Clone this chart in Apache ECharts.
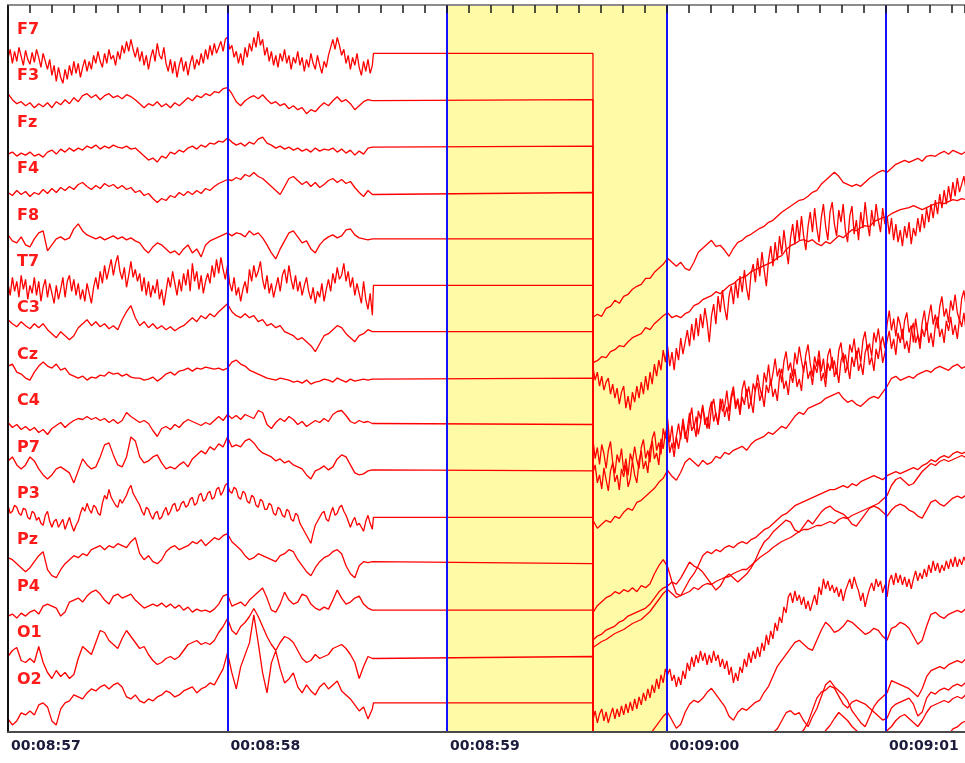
<!DOCTYPE html>
<html>
<head>
<meta charset="utf-8">
<script src="https://cdn.jsdelivr.net/npm/echarts@6/dist/echarts.min.js"></script>
<style>
  html, body { margin: 0; padding: 0; background: #ffffff; }
  #chart { width: 965px; height: 763px; }
</style>
</head>
<body>
<div id="chart"></div>
<script>
// Montage, top to bottom
const channels = ['F7', 'F3', 'Fz', 'F4', 'F8', 'T7', 'C3', 'Cz', 'C4', 'P7', 'P3', 'Pz', 'P4', 'O1', 'O2'];

// Page timing (seconds since 00:00:00)
const PAGE_START = 537.0;      // 00:08:57
const PAGE_END = 541.36;
const SEG_A_LEN = 1.66;        // first stretch of signal
const DROP_START = 538.665;    // signal lost, channels sit on baseline
const RESUME = 539.665;        // signal back (with DC drift)
const SEG_B_LEN = 1.70;
const CH_GAP = 46.4;           // baseline spacing at the current gain
const LABEL_LIFT = 23.5;       // channel name sits above its baseline

// Marked second (yellow)
const highlight = [539, 540];

// Level each trace arrives from at the left page edge
const carryIn = [-48, -47, -46, -47, -46, -48, -47, -46, -47, -46, -48, -47, -46, -47, -60];

// ---- Segment A: 00:08:57.00 - 00:08:58.66, deviation from baseline ----
// (arrays of 84 samples are 50 Hz, 167 samples are 100 Hz)
const F7_a = [-5,4,-10,2,-8,6,-3,-12,3,-6,-11,1,-9,4,-4,-14,0,-8,-16,-6,-22,-12,-28,-14,-24,-30,-16,-26,-12,-22,-8,-20,-10,-24,-14,-6,-18,-8,-16,-2,-10,2,-8,-14,0,-10,4,-6,-2,-12,2,-6,8,0,12,2,14,4,-4,6,-8,2,-12,-2,-16,-4,4,-8,10,-2,-6,6,-10,-18,-6,-20,-8,-24,-12,-4,-18,-8,-22,-10,-2,-16,-6,-12,0,-10,4,-6,8,-2,10,0,6,12,2,14,16,4,8,-4,2,-10,0,-12,6,-4,10,2,16,6,22,8,14,-2,6,-8,2,-12,-2,-14,0,-8,4,-10,-2,-16,-4,-10,2,-12,-4,-18,-6,-14,0,-10,-16,-2,-12,-20,-8,-14,-2,6,14,4,16,8,-2,4,-10,-2,-16,-4,-12,0,-14,-22,-8,-18,-6,-20,-12];
const F3_a = [6,0,-4,-2,-6,-3,-8,-4,-7,-3,-8,-2,-5,0,-4,2,-2,4,6,2,5,0,4,6,2,4,1,5,3,0,-4,-8,-4,-6,-2,-7,-4,-8,-3,-6,-2,2,-1,4,2,6,4,8,7,11,12,6,-2,-6,-1,2,4,1,5,0,-4,-2,-6,-4,-9,-6,-10,-8,-14,-10,-12,-7,-3,-6,-1,3,-2,0,-4,-10,-6,-2,0,-1];
const Fz_a = [-8,-6,-10,-7,-9,-6,-10,-8,-11,-6,-4,-8,-3,-6,-2,-5,-2,-4,0,-2,1,-3,0,-2,1,-1,-2,0,-3,-2,-6,-10,-14,-12,-16,-10,-12,-6,-8,-4,-6,-2,0,-3,1,-1,3,2,5,4,8,4,1,3,0,4,2,7,9,3,1,-2,0,-3,-1,-4,-2,-5,-3,-6,-2,-5,-3,-4,-2,-6,-3,-7,-4,-9,-5,-8,-2,-1];
const F4_a = [0,-3,2,-2,1,-4,0,-2,3,-1,4,0,5,2,6,3,8,10,6,3,7,4,9,6,8,4,7,3,5,0,2,-3,-1,-6,-10,-6,-8,-3,-5,0,-3,1,-2,2,-1,4,2,6,9,11,13,12,15,13,18,16,20,16,14,10,6,2,-2,6,14,16,12,8,11,6,10,5,8,12,14,10,13,9,11,5,0,-4,2,-2];
const F8_a = [4,-2,-4,2,-6,-8,0,6,8,-12,-6,0,2,-1,1,10,15,8,4,2,0,2,-1,1,3,0,2,-1,1,-2,-4,-10,-14,-8,-4,-6,-10,-14,-12,-16,-10,-6,-14,-10,-18,-6,-2,0,2,4,6,3,6,5,2,8,4,6,1,-6,-14,-20,-10,-2,6,8,2,-4,-2,-10,-14,-6,-1,2,4,1,3,9,10,4,1,0,-1,0];
const T7_a = [2,-10,8,-6,4,-12,10,-4,6,-14,0,-8,8,-10,4,-16,-2,6,-12,2,-8,-18,0,-14,-4,8,-12,4,10,-6,6,-10,2,-14,-4,-16,2,-8,-18,-2,8,-4,14,2,20,6,16,26,10,22,30,14,6,18,-2,10,24,8,16,4,12,-6,8,-10,4,-12,0,-8,6,-14,-4,-20,-6,8,-2,14,2,-10,6,-6,12,0,16,-6,22,4,14,-4,10,-8,4,12,2,20,8,26,12,28,16,6,20,2,-6,8,-10,-2,-16,-4,4,-8,16,4,20,8,14,24,6,-4,10,-8,2,-12,-2,8,-6,10,16,2,20,6,-4,10,-6,4,-10,0,8,-6,-14,-2,-18,-6,-12,2,-16,-4,6,-6,12,2,18,6,10,22,4,14,-2,8,-10,2,-8,-18,4,-14,-24,-8,-30];
const C3_a = [12,8,5,10,6,3,8,4,8,2,-2,-6,0,-4,-8,-4,4,8,12,6,10,5,8,3,6,2,12,20,26,14,6,10,4,8,3,6,2,5,1,4,6,10,14,10,16,13,18,15,20,24,28,20,16,14,18,14,16,10,12,6,8,4,6,0,-2,-4,-8,-6,-10,-14,-20,-12,-4,-2,2,6,4,-2,-6,-10,-4,-2,2,0];
const Cz_a = [12,14,6,4,0,-2,6,12,16,12,10,14,8,10,4,2,0,2,-2,1,0,3,2,6,4,5,2,4,1,0,0,-2,-1,1,-3,0,4,6,3,7,8,10,7,10,9,11,10,9,10,8,10,16,18,14,12,8,6,4,2,0,-1,-2,0,-1,-2,-4,-3,-5,-2,-6,-4,-3,-1,-2,-4,0,-2,-4,-1,-3,-2,-1,-2,-1];
const C4_a = [2,-3,0,-5,-2,-6,-3,-8,-5,-10,-4,-1,2,-3,1,4,6,5,8,5,7,4,6,2,5,1,4,12,8,5,2,4,1,-6,-12,-4,-2,-5,0,-3,2,5,3,1,-1,2,0,4,8,4,10,6,9,5,10,8,6,14,12,0,-4,2,6,3,8,5,0,3,-2,1,4,2,6,3,10,13,14,9,3,1,4,2,3,1];
const P7_a = [10,14,6,2,6,14,10,2,-4,-8,-4,2,4,1,-2,-12,0,12,6,2,4,14,26,28,16,6,4,14,34,30,14,8,10,14,16,8,2,4,2,6,9,4,12,16,20,17,24,21,27,24,34,24,26,24,30,32,28,22,18,16,14,10,12,8,10,6,4,2,-4,-8,0,2,5,1,4,12,16,14,6,-2,-4,-3,0,1];
const P3_a = [12,4,6,12,10,4,2,9,8,0,-2,6,4,-3,0,-6,-8,2,6,-4,-10,-4,-2,-10,-6,-2,-12,-6,0,-8,-14,-8,-4,4,10,6,14,8,4,12,10,4,2,14,22,18,28,20,16,12,10,18,14,18,22,28,32,24,20,16,12,6,2,10,8,2,-2,4,6,-2,0,6,10,2,6,12,14,6,8,14,16,10,12,18,20,12,14,22,24,16,18,24,26,18,20,28,30,22,26,32,34,26,24,30,28,20,18,26,24,16,14,22,20,12,10,18,16,8,8,14,12,4,2,10,8,2,0,8,6,-2,-4,4,2,-6,-10,-14,-18,-22,-26,-16,-8,-4,0,4,6,-2,-4,4,10,2,4,10,12,6,2,-4,-10,-4,0,-8,-6,-10,-14,-4,2,-6,-12];
const Pz_a = [6,4,0,-4,-8,-4,2,8,12,-6,-12,-14,-6,0,4,8,6,10,8,14,16,18,14,18,16,20,18,16,22,26,10,4,8,2,0,4,12,16,18,14,16,18,22,20,24,18,22,26,24,28,30,22,18,14,8,4,6,10,8,6,4,2,8,10,14,12,4,-2,-8,-12,-4,2,6,8,12,14,10,-2,-10,-14,-2,2,1,2];
const P4_a = [-6,-4,-8,-3,-6,-2,0,-4,4,6,4,2,-6,-2,8,10,12,8,14,18,20,16,10,6,14,16,12,14,16,10,6,2,4,6,4,7,3,6,2,5,0,3,-2,1,-1,0,-2,1,6,14,16,4,6,8,4,10,14,18,22,12,0,-2,6,18,10,6,8,16,14,6,2,0,3,1,10,20,12,6,8,12,14,6,2,0];
const O1_a = [0,6,9,-4,-6,-2,-6,10,-6,-16,-22,-14,-20,-16,-22,-18,-2,10,6,2,14,26,24,16,12,8,18,26,20,14,8,10,2,-4,-8,-6,-2,0,-3,0,6,12,14,16,12,14,12,16,24,30,38,26,22,30,34,40,48,40,30,20,12,6,14,20,18,14,6,-2,-6,-4,2,-2,0,2,8,10,12,8,2,-6,-22,-10,0,-2];
const O2_a = [-16,-22,-18,-10,-12,-8,-12,-2,0,-4,-18,-22,-6,0,2,8,6,4,10,14,12,16,18,14,18,20,16,6,4,8,2,0,4,2,6,8,12,10,6,8,12,14,16,10,14,16,20,18,26,34,50,30,14,36,48,60,88,60,30,10,40,52,34,20,24,30,16,10,18,12,8,16,20,14,18,22,12,8,4,-2,-8,-4,-16,-6];

// ---- Segment B: from 00:08:59.665, drifting baseline ----
// (arrays of 86 samples are 50 Hz, 171 samples are 100 Hz)
const F7_b = [-264,-261,-263,-255,-253,-247,-250,-243,-241,-236,-233,-231,-225,-225,-219,-215,-211,-205,-209,-213,-209,-215,-217,-209,-199,-195,-191,-187,-193,-192,-197,-203,-195,-189,-187,-183,-181,-178,-175,-173,-169,-167,-163,-159,-156,-153,-150,-147,-146,-143,-139,-137,-131,-127,-123,-119,-123,-129,-131,-133,-131,-133,-129,-125,-122,-119,-117,-119,-115,-111,-109,-107,-109,-107,-105,-108,-103,-102,-103,-100,-98,-101,-97,-99,-101,-98];
const F3_b = [-263,-261,-257,-258,-252,-250,-246,-247,-242,-238,-236,-234,-228,-230,-224,-220,-216,-213,-218,-216,-218,-214,-212,-206,-204,-200,-198,-196,-192,-194,-190,-186,-184,-180,-178,-176,-172,-170,-168,-166,-164,-162,-158,-156,-150,-146,-144,-141,-140,-142,-140,-144,-146,-142,-144,-140,-136,-138,-134,-130,-131,-128,-126,-127,-122,-120,-118,-117,-114,-112,-110,-109,-108,-106,-108,-110,-108,-106,-104,-103,-104,-102,-100,-101,-99,-100];
const Fz_b = [-221,-234,-226,-240,-230,-244,-236,-232,-248,-238,-252,-242,-258,-246,-240,-262,-250,-264,-246,-256,-240,-252,-236,-248,-230,-244,-226,-238,-218,-230,-214,-224,-204,-216,-200,-220,-206,-224,-202,-214,-192,-208,-196,-184,-200,-178,-194,-172,-190,-168,-182,-162,-176,-196,-170,-158,-178,-150,-166,-144,-162,-174,-150,-140,-158,-136,-152,-130,-146,-124,-142,-154,-128,-118,-136,-112,-130,-106,-124,-140,-114,-100,-120,-96,-114,-90,-108,-84,-102,-118,-92,-78,-98,-74,-94,-70,-90,-104,-80,-66,-86,-62,-82,-96,-72,-58,-80,-94,-66,-56,-78,-90,-64,-76,-58,-84,-96,-70,-60,-88,-74,-94,-66,-82,-56,-76,-90,-64,-80,-58,-74,-86,-62,-78,-70,-88,-72,-94,-78,-96,-84,-100,-80,-92,-76,-98,-82,-90,-72,-86,-68,-82,-62,-76,-58,-72,-54,-68,-48,-62,-44,-58,-40,-54,-36,-50,-32,-46,-38,-30,-44];
const F4_b = [-247,-266,-255,-272,-252,-261,-276,-258,-249,-270,-281,-262,-270,-256,-279,-266,-283,-261,-269,-254,-268,-276,-255,-247,-266,-258,-270,-246,-239,-258,-250,-262,-236,-246,-226,-250,-233,-256,-244,-231,-247,-226,-240,-250,-228,-215,-236,-224,-242,-230,-214,-226,-236,-218,-209,-229,-220,-232,-206,-219,-214,-198,-219,-203,-194,-213,-206,-219,-197,-188,-204,-194,-210,-191,-199,-182,-195,-204,-180,-190,-172,-193,-181,-166,-184,-176,-190,-169,-159,-178,-170,-184,-160,-172,-154,-168,-180,-162,-152,-171,-184,-164,-174,-158,-179,-166,-186,-163,-156,-176,-168,-182,-158,-150,-170,-162,-176,-152,-160,-146,-166,-155,-170,-148,-139,-158,-151,-164,-140,-150,-136,-153,-144,-156,-132,-118,-138,-126,-144,-124,-132,-147,-128,-120,-140,-133,-150,-126,-142,-150,-130,-118,-138,-124,-112,-132,-122,-136,-114,-104,-124,-116,-130,-108,-118,-102,-120,-128,-106,-98,-114];
const F8_b = [-234,-226,-244,-236,-250,-229,-241,-252,-232,-224,-243,-236,-251,-230,-238,-226,-248,-240,-222,-236,-244,-222,-212,-230,-222,-234,-210,-202,-220,-214,-226,-200,-210,-194,-190,-214,-204,-218,-198,-210,-196,-184,-200,-190,-174,-192,-186,-198,-172,-180,-166,-186,-178,-190,-168,-160,-176,-186,-170,-160,-178,-168,-182,-160,-152,-170,-162,-176,-158,-166,-150,-170,-162,-174,-150,-144,-162,-154,-168,-146,-154,-140,-158,-150,-162,-138,-130,-150,-142,-156,-134,-144,-130,-148,-140,-152,-128,-122,-140,-132,-146,-126,-134,-120,-142,-134,-148,-124,-132,-118,-138,-130,-144,-122,-114,-134,-126,-140,-118,-128,-112,-132,-124,-136,-114,-106,-126,-118,-132,-110,-120,-104,-124,-114,-102,-92,-110,-100,-116,-94,-104,-90,-110,-102,-114,-92,-84,-104,-96,-110,-90,-98,-84,-104,-94,-108,-86,-78,-98,-90,-104,-82,-92,-78,-96,-86,-100,-80,-88,-74,-92];
const T7_b = [-235,-243,-239,-235,-237,-231,-233,-227,-223,-225,-217,-215,-211,-207,-203,-197,-193,-185,-191,-195,-187,-177,-173,-177,-181,-175,-179,-177,-171,-173,-167,-169,-165,-163,-161,-165,-159,-155,-153,-151,-147,-149,-145,-141,-143,-137,-131,-127,-129,-123,-121,-119,-117,-113,-111,-109,-107,-113,-117,-115,-119,-121,-117,-113,-111,-113,-107,-101,-93,-91,-95,-93,-91,-93,-89,-87,-85,-87,-83,-81,-83,-85,-81,-79,-83,-81];
const C3_b = [-281,-274,-270,-266,-264,-260,-262,-258,-260,-256,-260,-254,-256,-252,-242,-234,-228,-235,-250,-262,-264,-256,-248,-242,-234,-224,-220,-222,-218,-220,-216,-214,-216,-212,-210,-212,-208,-206,-202,-198,-196,-192,-188,-184,-182,-178,-174,-172,-170,-168,-166,-164,-162,-160,-158,-158,-156,-154,-156,-152,-154,-150,-148,-146,-144,-146,-148,-144,-142,-140,-142,-140,-138,-136,-138,-134,-132,-128,-130,-126,-124,-126,-122,-120,-122,-120];
const Cz_b = [-262,-258,-256,-252,-250,-248,-244,-242,-238,-236,-234,-232,-230,-226,-220,-214,-210,-208,-204,-206,-200,-192,-184,-188,-190,-194,-200,-206,-212,-208,-200,-196,-200,-204,-200,-196,-190,-182,-172,-164,-160,-154,-150,-146,-142,-144,-152,-154,-148,-142,-146,-140,-134,-130,-128,-132,-134,-136,-140,-146,-148,-142,-136,-130,-128,-130,-134,-138,-132,-128,-126,-128,-132,-134,-138,-140,-132,-124,-122,-126,-128,-124,-120,-118,-120,-117];
const C4_b = [-223,-220,-217,-215,-212,-209,-207,-205,-202,-199,-197,-195,-191,-187,-181,-175,-169,-165,-169,-173,-171,-169,-167,-163,-165,-161,-159,-160,-157,-155,-153,-152,-149,-147,-145,-145,-141,-137,-133,-130,-127,-123,-120,-117,-115,-113,-110,-107,-105,-105,-103,-101,-101,-99,-97,-99,-95,-93,-94,-91,-89,-87,-85,-83,-81,-79,-75,-71,-61,-55,-53,-57,-61,-59,-53,-47,-43,-39,-41,-37,-35,-37,-35,-33,-31,-33];
const P7_b = [-249,-240,-252,-243,-238,-250,-241,-252,-244,-237,-248,-238,-246,-235,-244,-233,-242,-231,-240,-228,-238,-226,-234,-222,-230,-218,-227,-214,-222,-208,-218,-204,-212,-198,-204,-198,-210,-204,-216,-206,-214,-200,-208,-192,-200,-186,-196,-184,-192,-180,-190,-182,-194,-184,-192,-180,-190,-184,-196,-188,-198,-190,-204,-196,-212,-202,-210,-196,-202,-188,-196,-182,-192,-180,-188,-176,-186,-172,-180,-164,-174,-160,-168,-152,-160,-146,-152,-136,-142,-126,-122,-132,-120,-130,-124,-134,-126,-138,-130,-140,-132,-124,-134,-116,-124,-108,-118,-110,-120,-114,-122,-116,-126,-118,-130,-120,-114,-108,-118,-106,-114,-120,-130,-122,-136,-126,-118,-112,-120,-108,-116,-110,-122,-114,-126,-110,-104,-114,-102,-112,-104,-114,-106,-116,-108,-118,-108,-100,-110,-102,-108,-98,-106,-94,-102,-90,-100,-92,-102,-94,-100,-90,-98,-88,-96,-86,-96,-88,-94,-86,-92];
const P3_b = [-243,-241,-239,-237,-235,-233,-235,-231,-229,-227,-225,-223,-221,-217,-211,-205,-199,-195,-203,-211,-207,-195,-187,-183,-185,-181,-175,-171,-177,-183,-189,-199,-203,-195,-191,-193,-189,-185,-183,-175,-169,-159,-149,-143,-137,-131,-125,-123,-127,-131,-133,-123,-113,-105,-109,-115,-113,-109,-103,-105,-109,-113,-117,-115,-111,-113,-119,-123,-111,-109,-105,-107,-111,-119,-127,-123,-109,-97,-95,-99,-101,-97,-95,-93,-95,-91];
const Pz_b = [-237,-235,-233,-231,-229,-227,-225,-223,-221,-219,-217,-215,-213,-211,-209,-207,-205,-203,-203,-201,-199,-197,-195,-193,-193,-191,-189,-187,-187,-185,-185,-183,-183,-181,-181,-179,-179,-177,-175,-173,-171,-169,-165,-157,-149,-147,-151,-149,-157,-163,-153,-145,-133,-121,-117,-123,-127,-131,-137,-147,-153,-159,-163,-153,-143,-137,-133,-129,-117,-119,-121,-123,-125,-129,-133,-125,-113,-107,-105,-103,-105,-101,-99,-97,-99,-95];
const P4_b = [-210,-208,-206,-204,-202,-200,-198,-196,-194,-192,-190,-188,-187,-185,-184,-182,-181,-179,-178,-176,-175,-174,-172,-171,-169,-168,-166,-165,-163,-162,-160,-158,-157,-155,-154,-152,-150,-148,-146,-144,-142,-140,-137,-135,-132,-130,-127,-124,-120,-112,-100,-88,-82,-80,-76,-78,-86,-94,-98,-92,-90,-92,-94,-98,-102,-106,-110,-108,-98,-94,-92,-90,-88,-94,-106,-102,-88,-82,-84,-80,-78,-80,-76,-74,-76,-72];
const O1_b = [-174,-173,-171,-170,-168,-167,-165,-164,-162,-160,-159,-157,-155,-154,-152,-150,-149,-147,-146,-144,-142,-141,-139,-137,-136,-134,-133,-131,-129,-128,-126,-124,-122,-121,-119,-118,-116,-114,-113,-111,-109,-108,-106,-105,-103,-101,-100,-98,-96,-95,-93,-91,-89,-74,-69,-62,-56,-60,-64,-70,-74,-78,-82,-84,-82,-79,-76,-74,-70,-64,-60,-58,-62,-66,-70,-64,-56,-50,-48,-46,-44,-46,-42,-40,-42,-38];
const O2_b = [-157,-156,-155,-153,-152,-151,-149,-148,-147,-145,-144,-142,-141,-140,-138,-137,-136,-134,-133,-132,-130,-129,-128,-126,-125,-124,-122,-121,-120,-118,-117,-116,-114,-113,-112,-110,-109,-108,-106,-105,-104,-102,-101,-100,-98,-97,-96,-94,-93,-92,-90,-89,-88,-86,-85,-84,-82,-81,-80,-78,-77,-76,-74,-73,-72,-70,-69,-68,-66,-65,-64,-62,-60,-58,-56,-52,-50,-46,-42,-40,-38,-32,-26,-24,-20,-18];

const segA = [F7_a, F3_a, Fz_a, F4_a, F8_a, T7_a, C3_a, Cz_a, C4_a, P7_a, P3_a, Pz_a, P4_a, O1_a, O2_a];
const segB = [F7_b, F3_b, Fz_b, F4_b, F8_b, T7_b, C3_b, Cz_b, C4_b, P7_b, P3_b, Pz_b, P4_b, O1_b, O2_b];

const Y_MAX = 48.3;
const Y_MIN = Y_MAX - 727;

function clock(v) {
  const s = Math.round(v);
  const parts = [Math.floor(s / 3600), Math.floor((s % 3600) / 60), s % 60];
  return parts.map(n => String(n).padStart(2, '0')).join(':');
}

// timestamps of one stretch, spread evenly over its duration
function stamp(start, len, values, base, out) {
  const dt = len / (values.length - 1);
  values.forEach((v, k) => out.push([+(start + k * dt).toFixed(4), base + v]));
}

const TRACE_RED = '#ff0000';

const traceSeries = channels.map((name, i) => {
  const base = -i * CH_GAP;
  const pts = [[PAGE_START, base + carryIn[i]]];
  stamp(PAGE_START, SEG_A_LEN, segA[i], base, pts);
  pts.push([DROP_START, base], [RESUME, base]);
  stamp(RESUME, SEG_B_LEN, segB[i], base, pts);
  return {
    name: name,
    type: 'line',
    data: pts,
    symbol: 'none',
    showSymbol: false,
    silent: true,
    clip: true,
    z: 3,
    lineStyle: { color: TRACE_RED, width: 1.3 },
    itemStyle: { color: TRACE_RED }
  };
});

// whole-second cursors
const secondMarks = [];
for (let s = Math.ceil(PAGE_START) + 1; s <= PAGE_END; s++) secondMarks.push(s);

const labelLevels = channels.map((c, i) => +(-i * CH_GAP + LABEL_LIFT).toFixed(2));

const series = [
  {
    type: 'line', data: [], z: 1, silent: true,
    markArea: {
      silent: true,
      itemStyle: { color: '#fffaa5' },
      data: [[{ xAxis: highlight[0] }, { xAxis: highlight[1] }]]
    }
  },
  ...traceSeries,
  {
    type: 'line', data: [], z: 6, silent: true,
    markLine: {
      silent: true,
      symbol: ['none', 'none'],
      label: { show: false },
      lineStyle: { color: '#1212ff', width: 2, type: 'solid' },
      data: secondMarks.map(s => ({ xAxis: s }))
    }
  }
];

const chart = echarts.init(document.getElementById('chart'), null, { renderer: 'canvas' });
chart.setOption({
  animation: false,
  backgroundColor: '#ffffff',
  grid: { left: 8, right: 0, top: 5, bottom: 31, containLabel: false },
  xAxis: [
    {
      type: 'value', position: 'bottom', min: PAGE_START, max: PAGE_END, interval: 1, z: 10,
      axisLine: { show: true, onZero: false, lineStyle: { color: '#4a4a4a', width: 2 } },
      axisTick: { show: false },
      splitLine: { show: false },
      axisLabel: {
        formatter: clock, align: 'left', margin: 7, padding: [0, 0, 0, 3],
        showMaxLabel: false,
        color: '#1b1b3b', fontFamily: 'DejaVu Sans', fontWeight: 'bold', fontSize: 14
      }
    },
    {
      // tenth-of-second ruler along the top edge
      type: 'value', position: 'top', min: PAGE_START, max: PAGE_END, interval: 1, z: 10,
      show: true,
      axisLine: { show: true, onZero: false, lineStyle: { color: '#8c8c8c', width: 2 } },
      axisTick: { show: true, inside: true, length: 8, lineStyle: { color: '#1a1a1a', width: 1.5 } },
      minorTick: { show: true, splitNumber: 10, length: 8, lineStyle: { color: '#1a1a1a', width: 1.5 } },
      axisLabel: { show: false },
      splitLine: { show: false },
      minorSplitLine: { show: false }
    }
  ],
  yAxis: {
    type: 'value', min: Y_MIN, max: Y_MAX, z: 10,
    axisLine: { show: true, onZero: false, lineStyle: { color: '#111111', width: 2 } },
    axisTick: { show: false },
    splitLine: { show: false },
    axisLabel: {
      inside: true, margin: 9,
      customValues: labelLevels,
      formatter: v => channels[Math.round((LABEL_LIFT - v) / CH_GAP)] || '',
      color: '#ff1a1a', fontFamily: 'DejaVu Sans', fontWeight: 'bold', fontSize: 16,
      verticalAlign: 'middle'
    }
  },
  series: series
});
</script>
</body>
</html>
